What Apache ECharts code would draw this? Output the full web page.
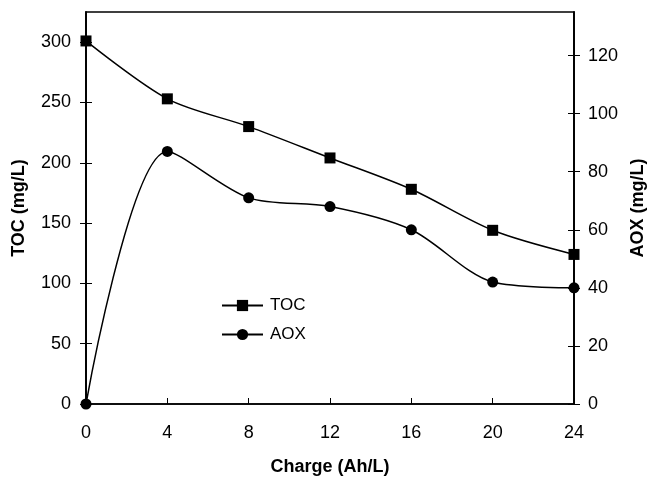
<!DOCTYPE html>
<html>
<head>
<meta charset="utf-8">
<script src="https://cdn.jsdelivr.net/npm/echarts@6/dist/echarts.min.js"></script>
<style>
  html, body { margin: 0; padding: 0; background: #fff; }
  #chart { width: 650px; height: 477px; }
</style>
</head>
<body>
<div id="chart"></div>
<script>
// charge (Ah/L) and measured values
var charge = [0, 4, 8, 12, 16, 20, 24];
var toc = [301, 253, 230, 204, 178, 144, 124];
var aox = [0, 87, 71, 68, 60, 42, 40];
var tocTicks = [0, 50, 100, 150, 200, 250, 300];
var aoxTicks = [0, 20, 40, 60, 80, 100, 120];

var font = '"Liberation Sans", Arial, Helvetica, sans-serif';
var black = '#000';

function pairs(ys) {
    return charge.map(function (x, i) { return [x, ys[i]]; });
}

// base y axis settings
function yAxisBase(pos, max, ticks, inside) {
    return {
        type: 'value',
        position: pos,
        min: 0,
        max: max,
        splitLine: { show: false },
        axisLine: { show: true, lineStyle: { color: black, width: 1.5 } },
        axisTick: {
            show: true,
            inside: inside,
            length: 6,
            customValues: ticks,
            lineStyle: { color: black, width: 1 }
        }
    };
}

var chart = echarts.init(document.getElementById('chart'));

var nameStyle = { fontFamily: font, fontSize: 18, fontWeight: 'bold', color: black };
var labelStyle = { fontFamily: font, fontSize: 18, color: black };

var yLeft = yAxisBase('left', 325, tocTicks, false);
yLeft.name = 'TOC (mg/L)';
yLeft.nameLocation = 'middle';
yLeft.nameRotate = 90;
yLeft.nameGap = 58;
yLeft.nameTextStyle = nameStyle;
yLeft.axisLabel = Object.assign({ customValues: tocTicks, margin: 15 }, labelStyle);

var yRight = yAxisBase('right', 135, aoxTicks, false);
yRight.name = 'AOX (mg/L)';
yRight.nameLocation = 'middle';
yRight.nameRotate = 90;
yRight.nameGap = 55;
yRight.nameTextStyle = nameStyle;
yRight.axisLabel = Object.assign({ customValues: aoxTicks, margin: 14 }, labelStyle);

// extra axes just to draw the inner half of the crossing ticks
var yLeftIn = yAxisBase('left', 325, tocTicks, true);
yLeftIn.axisLabel = { show: false };
var yRightIn = yAxisBase('right', 135, aoxTicks, true);
yRightIn.axisLabel = { show: false };

chart.setOption({
    animation: false,
    backgroundColor: '#fff',
    grid: {
        left: 86, right: 76, top: 12, bottom: 73,
        outerBoundsMode: 'none',
        containLabel: false,
        show: true,
        borderColor: black,
        borderWidth: 1.5
    },
    legend: {
        orient: 'vertical',
        left: 221,
        top: 297,
        padding: 0,
        itemWidth: 41,
        itemHeight: 14,
        itemGap: 12,
        textStyle: { fontFamily: font, fontSize: 17, color: black, padding: [0, 0, 0, 2] },
        data: ['TOC', 'AOX']
    },
    xAxis: {
        type: 'value',
        min: 0,
        max: 24,
        interval: 4,
        name: 'Charge (Ah/L)',
        nameLocation: 'middle',
        nameGap: 54,
        nameTextStyle: nameStyle,
        splitLine: { show: false },
        axisLine: { lineStyle: { color: black, width: 1.5 } },
        axisTick: { inside: true, length: 6, lineStyle: { color: black, width: 1 } },
        axisLabel: Object.assign({ margin: 20 }, labelStyle)
    },
    yAxis: [yLeft, yRight, yLeftIn, yRightIn],
    series: [
        {
            name: 'TOC',
            type: 'line',
            yAxisIndex: 0,
            data: pairs(toc),
            smooth: 0.3,
            symbol: 'rect',
            symbolSize: 11,
            itemStyle: { color: black },
            lineStyle: { color: black, width: 1.5 }
        },
        {
            name: 'AOX',
            type: 'line',
            yAxisIndex: 1,
            data: pairs(aox),
            smooth: 0.3,
            symbol: 'circle',
            symbolSize: 11,
            itemStyle: { color: black },
            lineStyle: { color: black, width: 1.5 }
        }
    ]
});
</script>
</body>
</html>
